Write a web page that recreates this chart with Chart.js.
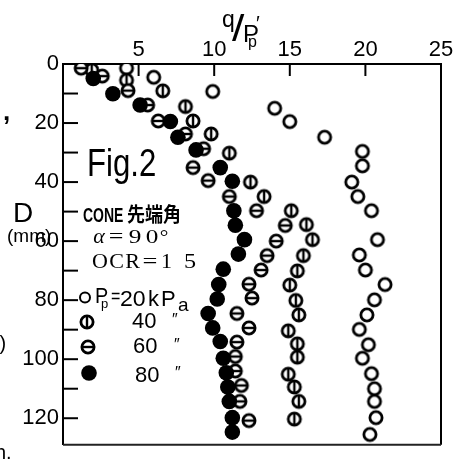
<!DOCTYPE html>
<html><head><meta charset="utf-8">
<script src="https://cdn.jsdelivr.net/npm/chart.js@4"></script>
<style>html,body{margin:0;padding:0;background:#fff;overflow:hidden}canvas{display:block}</style>
</head><body>
<canvas id="c" width="470" height="462"></canvas>
<script>
// ---- tick labels ----
const xTickValues = [0, 5, 10, 15, 20, 25];
const xTickLabels = ['', '5', '10', '15', '20', '25'];
const yTickValues = [0, 10, 20, 30, 40, 50, 60, 70, 80, 90, 100, 110, 120];
const yTickLabels = ['0', '', '20', '', '40', '', '60', '', '80', '', '100', '', '120'];

// ---- series: q/p'p (x) against depth D in mm (y) ----
const depth20 = [1.4, 4.5, 9.3, 15.0, 19.5, 24.8, 29.6, 34.5, 40.0, 44.9, 49.7, 59.5, 64.7, 69.8, 74.7, 79.9, 85.0, 89.9, 95.1, 99.7, 104.9, 110.0, 114.3, 119.8, 125.5];
const q20     = [4.2, 6.0, 9.9, 14.0, 15.0, 17.3, 19.8, 19.8, 19.1, 19.5, 20.4, 20.8, 19.6, 20.0, 21.3, 20.6, 20.1, 19.6, 20.2, 19.8, 20.4, 20.6, 20.6, 20.7, 20.3];

const depth40 = [2.0, 5.5, 9.1, 14.4, 19.3, 23.7, 30.2, 40.0, 44.9, 49.7, 54.4, 59.5, 64.9, 70.1, 74.9, 80.1, 85.0, 90.4, 94.8, 99.3, 105.1, 109.4, 114.3, 120.3];
const q40     = [1.9, 4.2, 6.6, 8.1, 8.6, 9.8, 11.0, 12.4, 13.3, 15.1, 16.1, 16.5, 15.9, 15.5, 15.0, 15.4, 15.6, 14.9, 15.5, 15.5, 14.9, 15.3, 15.6, 15.3];

const depth60 = [1.4, 4.1, 9.0, 13.9, 19.3, 23.7, 28.7, 35.1, 39.5, 44.9, 49.7, 54.7, 60.0, 64.9, 69.8, 74.6, 79.3, 84.5, 89.4, 94.2, 99.1, 104.0, 108.9, 114.3, 120.8];
const q60     = [1.2, 2.6, 4.3, 5.6, 6.3, 8.1, 9.3, 8.6, 9.6, 11.0, 12.8, 14.7, 14.1, 13.5, 13.1, 12.3, 12.5, 11.5, 12.3, 11.5, 11.4, 11.4, 11.8, 11.7, 12.3];

const depth80 = [4.9, 10.1, 13.9, 19.5, 24.8, 29.1, 35.1, 39.7, 49.7, 54.6, 59.5, 64.4, 69.5, 74.7, 79.6, 84.5, 89.4, 94.0, 99.7, 104.6, 109.4, 114.3, 119.8, 124.7];
const q80     = [2.0, 3.3, 5.1, 7.1, 7.6, 8.8, 10.4, 11.2, 11.3, 11.4, 12.0, 11.6, 10.6, 10.3, 10.2, 9.6, 9.9, 10.4, 10.6, 10.8, 10.9, 11.0, 11.2, 11.2];

function pts(xs, ys) { return xs.map((v, i) => ({ x: v, y: ys[i] })); }

function marker(type, r, lw) {
  const c = document.createElement('canvas');
  c.width = 18; c.height = 18;
  const g = c.getContext('2d');
  g.fillStyle = '#fff'; g.strokeStyle = '#000'; g.lineWidth = lw;
  g.beginPath(); g.arc(9, 9, r, 0, Math.PI * 2); g.fill(); g.stroke();
  g.lineWidth = 2.4;
  if (type === 'v') { g.beginPath(); g.moveTo(9, 9 - r); g.lineTo(9, 9 + r); g.stroke(); }
  if (type === 'h') { g.beginPath(); g.moveTo(9 - r, 9); g.lineTo(9 + r, 9); g.stroke(); }
  return c;
}
const mOpen = marker('o', 6.1, 2.8);
const mVert = marker('v', 6.1, 2.8);
const mHorz = marker('h', 6.1, 2.8);

const FONT = "'Liberation Sans', Arial, sans-serif";
const SERIF = "'Liberation Serif', 'Times New Roman', serif";

function txt(ctx, s, x, y, font, sx, align, base) {
  ctx.save();
  ctx.font = font; ctx.fillStyle = '#000';
  ctx.textAlign = align || 'left'; ctx.textBaseline = base || 'alphabetic';
  ctx.translate(x, y); ctx.scale(sx || 1, 1);
  ctx.fillText(s, 0, 0);
  ctx.restore();
}

const deco = {
  id: 'deco',
  beforeDatasetsDraw(chart) {
    const ctx = chart.ctx, a = chart.chartArea, xs = chart.scales.x, ys = chart.scales.y;
    ctx.save();
    ctx.strokeStyle = '#000'; ctx.lineWidth = 2;
    xTickValues.forEach(v => {
      if (v === 0 || v === 25) return;
      const p = xs.getPixelForValue(v);
      ctx.beginPath(); ctx.moveTo(p, a.top); ctx.lineTo(p, a.top + 12); ctx.stroke();
    });
    yTickValues.forEach(v => {
      if (v === 0) return;
      const p = ys.getPixelForValue(v);
      ctx.beginPath(); ctx.moveTo(a.left, p); ctx.lineTo(a.left + 15, p); ctx.stroke();
    });
    // right and bottom frame
    ctx.beginPath(); ctx.moveTo(a.right, a.top); ctx.lineTo(a.right, a.bottom); ctx.stroke();
    ctx.strokeStyle = '#222';
    ctx.beginPath(); ctx.moveTo(a.left, a.bottom); ctx.lineTo(a.right, a.bottom); ctx.stroke();
    ctx.restore();
  },
  afterDraw(chart) {
    const ctx = chart.ctx;
    // axis title q/p'p
    txt(ctx, 'q', 222, 27, '23px ' + FONT);
    txt(ctx, '/', 232, 41, '37px ' + FONT, 1.2);
    txt(ctx, 'P', 243, 42, '24px ' + FONT);
    txt(ctx, '\u2032', 256, 30, '20px ' + FONT);
    txt(ctx, 'p', 248, 47, '16px ' + FONT);
    // Fig. 2
    txt(ctx, 'Fig.2', 87, 176, '38px ' + FONT, 0.82);
    // D (mm)
    txt(ctx, 'D', 13, 222, '28px ' + FONT);
    txt(ctx, '(mm)', 7, 242, '19px ' + FONT);
    // CONE text
    txt(ctx, 'CONE', 83, 222, 'bold 20px ' + FONT, 0.7);
    txt(ctx, '先端角', 127, 222, "bold 20px 'Noto Sans CJK JP', 'Noto Sans CJK SC', sans-serif", 0.9);
    // alpha = 90°
    txt(ctx, 'α', 99, 243, 'italic 20px ' + SERIF, 1.1, 'center');
    txt(ctx, '=', 116, 243, '20px ' + SERIF, 1.3, 'center');
    txt(ctx, '9', 135, 243, '18px ' + SERIF, 1.4, 'center');
    txt(ctx, '0', 152, 243, '18px ' + SERIF, 1.4, 'center');
    txt(ctx, '°', 164, 243, '18px ' + SERIF, 1.2, 'center');
    // OCR = 15
    txt(ctx, 'O', 100, 268, '22px ' + SERIF, 1, 'center');
    txt(ctx, 'C', 116.5, 268, '22px ' + SERIF, 1, 'center');
    txt(ctx, 'R', 132.5, 268, '22px ' + SERIF, 1, 'center');
    txt(ctx, '=', 150, 268, '22px ' + SERIF, 1.2, 'center');
    txt(ctx, '1', 166.5, 268, '22px ' + SERIF, 1, 'center');
    txt(ctx, '5', 190, 268, '22px ' + SERIF, 1.1, 'center');
    // legend
    ctx.save();
    ctx.strokeStyle = '#000'; ctx.fillStyle = '#fff'; ctx.lineWidth = 2;
    ctx.beginPath(); ctx.arc(85, 297.5, 5, 0, Math.PI * 2); ctx.fill(); ctx.stroke();
    ctx.restore();
    txt(ctx, 'P', 95, 303, '22px ' + FONT, 0.9);
    txt(ctx, 'p', 101, 308, '13px ' + FONT);
    txt(ctx, '=', 111, 303, '20px ' + FONT, 0.8);
    txt(ctx, '20', 120, 306, '22px ' + FONT, 1.05);
    txt(ctx, 'k', 148, 306, '22px ' + FONT);
    txt(ctx, 'P', 161, 306, '22px ' + FONT);
    txt(ctx, 'a', 178, 311, '19px ' + FONT);

    ctx.drawImage(mVert, 87 - 9, 322 - 9);
    txt(ctx, '40', 132, 328, '22px ' + FONT);
    txt(ctx, '\u2033', 174, 321, 'italic 16px ' + FONT, 1, 'center', 'middle');

    ctx.drawImage(mHorz, 88 - 9, 347 - 9);
    txt(ctx, '60', 133, 353, '22px ' + FONT);
    txt(ctx, '\u2033', 176, 346, 'italic 16px ' + FONT, 1, 'center', 'middle');

    ctx.save();
    ctx.fillStyle = '#000';
    ctx.beginPath(); ctx.arc(89, 373, 7.8, 0, Math.PI * 2); ctx.fill();
    ctx.restore();
    txt(ctx, '80', 135, 382, '22px ' + FONT);
    txt(ctx, '\u2033', 177, 374, 'italic 16px ' + FONT, 1, 'center', 'middle');

    // clipped fragments at the left edge
    txt(ctx, ',', 3, 120, 'bold 26px ' + FONT);
    txt(ctx, 't)', -6, 350, '20px ' + FONT);
    txt(ctx, 'h.', -5, 459, '20px ' + FONT);
  }
};

new Chart(document.getElementById('c'), {
  type: 'scatter',
  data: {
    datasets: [
      { label: '20', data: pts(q20, depth20), pointStyle: mOpen, pointRadius: 8, order: 3 },
      { label: '40', data: pts(q40, depth40), pointStyle: mVert, pointRadius: 8, order: 2 },
      { label: '60', data: pts(q60, depth60), pointStyle: mHorz, pointRadius: 8, order: 1 },
      { label: '80', data: pts(q80, depth80), pointStyle: 'circle', pointRadius: 7.8,
        backgroundColor: '#000', borderColor: '#000', borderWidth: 0, order: 0 }
    ]
  },
  options: {
    responsive: false, animation: false, devicePixelRatio: 1,
    layout: { padding: { left: 0, right: 29, top: 0, bottom: 2 } },
    plugins: { legend: { display: false }, tooltip: { enabled: false } },
    scales: {
      x: {
        type: 'linear', position: 'top', min: 0, max: 25,
        afterBuildTicks: s => { s.ticks = xTickValues.map(v => ({ value: v })); },
        afterFit: s => { s.height = 64; },
        ticks: {
          callback: v => xTickLabels[xTickValues.indexOf(v)],
          font: { family: 'Liberation Sans', size: 22 }, color: '#000',
          padding: 1, maxRotation: 0, autoSkip: false
        },
        grid: { display: true, drawOnChartArea: false, drawTicks: false },
        border: { display: true, color: '#000', width: 2 }
      },
      y: {
        type: 'linear', reverse: true, min: 0, max: 129,
        afterBuildTicks: s => { s.ticks = yTickValues.map(v => ({ value: v })); },
        afterFit: s => { s.width = 63; },
        ticks: {
          callback: v => yTickLabels[yTickValues.indexOf(v)],
          font: { family: 'Liberation Sans', size: 22 }, color: '#000',
          padding: 4, autoSkip: false
        },
        grid: { display: true, drawOnChartArea: false, drawTicks: false },
        border: { display: true, color: '#000', width: 2 }
      }
    }
  },
  plugins: [deco]
});
</script>
</body></html>
